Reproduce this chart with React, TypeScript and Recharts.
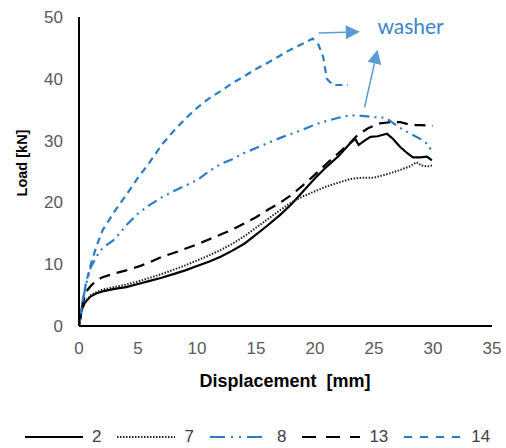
import React from 'react';
import { LineChart, Line, XAxis, YAxis, ReferenceLine, ReferenceDot } from 'recharts';

// displacement [mm] / load [kN], one pair of arrays per specimen
const s2X = [0, 0.2, 0.5, 1, 1.5, 2, 3, 4, 5, 6, 7, 8, 9, 10, 11, 12, 13, 14, 15, 16, 17, 18, 19, 20, 21, 22, 23, 23.4, 23.7, 24.2, 24.7, 25.3, 26.1, 26.6, 27.2, 27.8, 28.3, 28.9, 29.5, 29.9];
const s2Y = [0, 2.5, 3.8, 4.8, 5.3, 5.6, 6.0, 6.3, 6.8, 7.3, 7.8, 8.4, 9.0, 9.7, 10.4, 11.2, 12.2, 13.3, 14.8, 16.3, 17.9, 19.7, 21.8, 23.9, 25.8, 27.5, 29.6, 30.3, 29.3, 30.0, 30.6, 30.7, 31.1, 30.3, 29.0, 28.0, 27.3, 27.3, 27.4, 26.8];

const s7X = [0, 0.3, 0.7, 1, 1.5, 2, 3, 4, 5, 6, 7, 8, 9, 10, 11, 12, 13, 14, 15, 16, 17, 18, 19, 20, 21, 22, 23, 24, 25, 26, 27, 28, 28.6, 29, 29.5, 30];
const s7Y = [0, 3, 4.3, 5, 5.5, 5.9, 6.3, 6.7, 7.2, 7.8, 8.4, 9.1, 9.8, 10.6, 11.4, 12.3, 13.3, 14.5, 15.9, 17.3, 18.7, 20.0, 21.0, 21.8, 22.6, 23.2, 23.8, 24.0, 24.0, 24.5, 25.1, 25.8, 26.5, 26.0, 25.8, 26.0];

const s8X = [0, 0.3, 0.7, 1, 1.5, 2, 3, 4, 5, 6, 7, 8, 9, 10, 11, 12, 13, 14, 15, 16, 17, 18, 19, 20, 21, 22, 23, 24, 25, 26, 27, 28, 29, 29.5, 30];
const s8Y = [0, 4, 7.5, 9.5, 11.3, 12.6, 14.0, 16.3, 18.2, 19.6, 20.8, 21.8, 22.7, 23.6, 25.0, 26.2, 27.0, 28.0, 28.8, 29.6, 30.4, 31.1, 31.8, 32.6, 33.2, 33.7, 34.1, 34.0, 33.8, 33.7, 32.3, 31.2, 30.2, 29.5, 28.0];

const s13X = [0, 0.3, 0.6, 1, 1.5, 2, 3, 4, 5, 6, 7, 8, 9, 10, 11, 12, 13, 14, 15, 16, 17, 18, 19, 20, 21, 22, 23, 23.6, 24.5, 25.5, 26.5, 27.2, 28.2, 29, 30];
const s13Y = [0, 3.5, 5.5, 6.5, 7.4, 7.9, 8.5, 9.0, 9.6, 10.3, 11.2, 11.8, 12.5, 13.2, 14.0, 14.8, 15.6, 16.6, 17.6, 18.8, 19.9, 21.2, 22.8, 24.5, 26.3, 28.0, 29.7, 30.9, 32.0, 32.8, 33.0, 33.0, 32.5, 32.5, 32.4];

const s14X = [0, 0.3, 0.6, 1, 1.5, 2, 3, 4, 5, 6, 7, 8, 9, 10, 11, 12, 13, 14, 15, 16, 17, 18, 19, 19.8, 20.3, 20.7, 21.0, 21.5, 22, 22.8];
const s14Y = [0, 4, 7, 10, 13, 15.5, 18.5, 21.2, 24, 26.5, 29.3, 31.5, 33.5, 35.3, 36.8, 38.0, 39.3, 40.4, 41.6, 42.6, 43.7, 44.8, 45.7, 46.5, 45.5, 43.5, 40.0, 39.0, 39.0, 39.0];

const xTicks = [0, 5, 10, 15, 20, 25, 30, 35];
const yTicks = [0, 10, 20, 30, 40, 50];

const toPoints = (xs: number[], ys: number[]) => xs.map((x, i) => ({ x, y: ys[i] }));

const BLUE = '#2A7CC7';
const ARROW = '#5B9BD5';
const FONT = '"Liberation Sans", Arial, sans-serif';

const series = [
  { name: '2', data: toPoints(s2X, s2Y), color: '#000', dash: undefined, legendDash: undefined, width: 2.2 },
  { name: '7', data: toPoints(s7X, s7Y), color: '#222', dash: '1.5 1.5', legendDash: '1.5 1.5', width: 2 },
  { name: '8', data: toPoints(s8X, s8Y), color: BLUE, dash: '10 5 2 5 2 5', legendDash: '15 6 2 6 2 6', width: 2.2 },
  { name: '13', data: toPoints(s13X, s13Y), color: '#000', dash: '11 7', legendDash: '14 10', width: 2.2 },
  { name: '14', data: toPoints(s14X, s14Y), color: BLUE, dash: '7 5', legendDash: '8 8', width: 2.2 },
];

// line with a filled triangular head, drawn between the scaled segment ends
const arrowShape = (props: any) => {
  const { x1, y1, x2, y2 } = props;
  if ([x1, y1, x2, y2].some((v) => typeof v !== 'number' || isNaN(v))) return <g />;
  const len = Math.hypot(x2 - x1, y2 - y1) || 1;
  const ux = (x2 - x1) / len;
  const uy = (y2 - y1) / len;
  const head = 14;
  const half = 7;
  const bx = x2 - ux * head;
  const by = y2 - uy * head;
  const pts = `${x2},${y2} ${bx - uy * half},${by + ux * half} ${bx + uy * half},${by - ux * half}`;
  return (
    <g>
      <line x1={x1} y1={y1} x2={bx} y2={by} stroke={ARROW} strokeWidth={1.5} />
      <polygon points={pts} fill={ARROW} />
    </g>
  );
};

const LegendRow = () => (
  <div
    style={{
      position: 'absolute',
      left: 25,
      top: 427,
      display: 'flex',
      alignItems: 'center',
      gap: 16,
      fontFamily: FONT,
      fontSize: 17,
      color: '#404040',
    }}
  >
    {series.map((s) => (
      <div key={s.name} style={{ display: 'flex', alignItems: 'center', gap: 9 }}>
        <svg width={58} height={20}>
          <line x1={0} y1={10} x2={58} y2={10} stroke={s.color} strokeWidth={2.2} strokeDasharray={s.legendDash} />
        </svg>
        <span>{s.name}</span>
      </div>
    ))}
  </div>
);

export default function App() {
  return (
    <div style={{ position: 'absolute', left: 0, top: 0, width: 506, height: 448, background: '#fff' }}>
      <LineChart width={506} height={448} margin={{ top: 17, right: 14, left: 0, bottom: 0 }}>
        <XAxis
          dataKey="x"
          type="number"
          domain={[0, 35]}
          ticks={xTicks}
          interval={0}
          height={122}
          tickLine={false}
          tickSize={0}
          tickMargin={16}
          axisLine={{ stroke: '#000', strokeWidth: 2 }}
          tick={{ fill: '#595959', fontSize: 17, fontFamily: FONT }}
          label={{
            content: () => (
              <text x={285} y={387} textAnchor="middle" fontFamily={FONT} fontSize={18} fontWeight="bold" fill="#000">
                {'Displacement\u00a0 [mm]'}
              </text>
            ),
          }}
        />
        <YAxis
          dataKey="y"
          type="number"
          domain={[0, 50]}
          ticks={yTicks}
          interval={0}
          width={79}
          tickLine={false}
          tickSize={0}
          tickMargin={16}
          axisLine={{ stroke: '#000', strokeWidth: 2 }}
          tick={{ fill: '#595959', fontSize: 17, fontFamily: FONT }}
          label={{
            content: () => (
              <text
                x={22}
                y={163}
                transform="rotate(-90 22 163)"
                textAnchor="middle"
                dominantBaseline="central"
                fontFamily={FONT}
                fontSize={14.5}
                fontWeight="bold"
                fill="#000"
              >
                Load [kN]
              </text>
            ),
          }}
        />
        {series.map((s) => (
          <Line
            key={s.name}
            data={s.data}
            dataKey="y"
            name={s.name}
            type="linear"
            stroke={s.color}
            strokeWidth={s.width}
            strokeDasharray={s.dash}
            dot={false}
            activeDot={false}
            isAnimationActive={false}
          />
        ))}
        <ReferenceLine segment={[{ x: 20.3, y: 47.4 }, { x: 23.8, y: 47.6 }]} shape={arrowShape} ifOverflow="visible" />
        <ReferenceLine segment={[{ x: 24.2, y: 35.4 }, { x: 25.3, y: 44.7 }]} shape={arrowShape} ifOverflow="visible" />
        <ReferenceDot
          x={28.1}
          y={48.7}
          r={0}
          ifOverflow="visible"
          shape={(p: any) => (
            <text x={p.cx} y={p.cy} textAnchor="middle" dominantBaseline="central" fontFamily="Lato, 'Open Sans', sans-serif" fontSize={21} fill="#3A85C9">
              washer
            </text>
          )}
        />
      </LineChart>
      <LegendRow />
    </div>
  );
}
